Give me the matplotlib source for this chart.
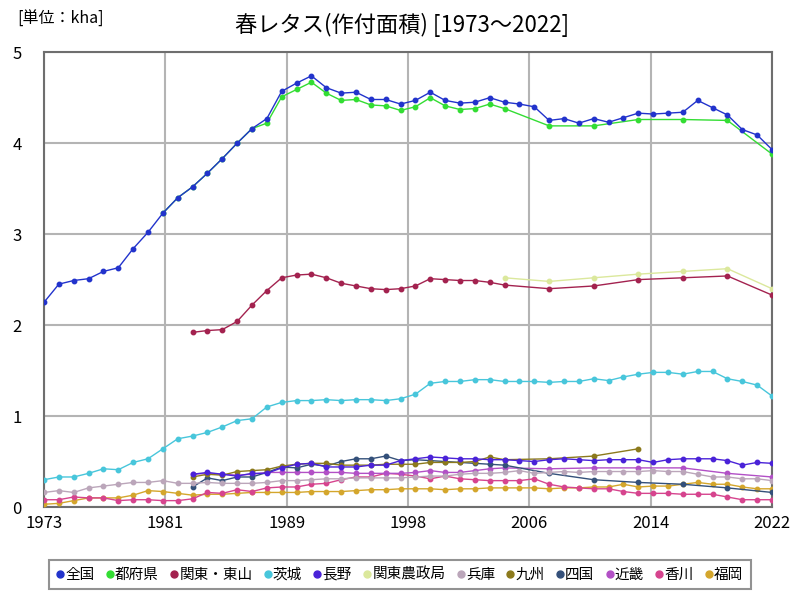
import numpy as np
import matplotlib
matplotlib.use('Agg')
import matplotlib.pyplot as plt
from matplotlib.lines import Line2D

plt.rcParams['font.family'] = ['Noto Sans CJK JP', 'DejaVu Sans']


# --------------------------------------------------------------------------- #
# Data (kha)
# --------------------------------------------------------------------------- #

YEARS_ALL = list(range(1973, 2023))
YEARS_83 = list(range(1983, 2023))
YEARS_3Y = [2007, 2010, 2013, 2016, 2019, 2022]

zenkoku = [2.25, 2.45, 2.49, 2.51, 2.59, 2.63, 2.84, 3.02, 3.23, 3.40,
           3.52, 3.67, 3.83, 4.00, 4.16, 4.27, 4.57, 4.66, 4.74, 4.61,
           4.55, 4.56, 4.48, 4.48, 4.43, 4.47, 4.56, 4.47, 4.44, 4.45,
           4.50, 4.45, 4.43, 4.40, 4.25, 4.27, 4.22, 4.27, 4.23, 4.28,
           4.33, 4.32, 4.33, 4.34, 4.47, 4.39, 4.31, 4.15, 4.09, 3.93]

tofuken_years = list(range(1981, 2005)) + YEARS_3Y
tofuken = [3.23, 3.40, 3.52, 3.67, 3.83, 4.00, 4.16, 4.22, 4.51, 4.59,
           4.67, 4.55, 4.47, 4.48, 4.42, 4.41, 4.36, 4.40, 4.50, 4.41,
           4.37, 4.38, 4.43, 4.38,
           4.19, 4.19, 4.26, 4.26, 4.25, 3.88]

kanto_tosan_years = list(range(1983, 2005)) + YEARS_3Y
kanto_tosan = [1.92, 1.94, 1.95, 2.04, 2.22, 2.38, 2.52, 2.55, 2.56, 2.52,
               2.46, 2.43, 2.40, 2.39, 2.40, 2.43, 2.51, 2.50, 2.49, 2.49,
               2.47, 2.44,
               2.40, 2.43, 2.50, 2.52, 2.54, 2.33]

ibaraki = [0.30, 0.33, 0.33, 0.37, 0.42, 0.41, 0.49, 0.53, 0.64, 0.75,
           0.78, 0.82, 0.88, 0.95, 0.97, 1.10, 1.15, 1.17, 1.17, 1.18,
           1.17, 1.18, 1.18, 1.17, 1.19, 1.24, 1.36, 1.38, 1.38, 1.40,
           1.40, 1.38, 1.38, 1.38, 1.37, 1.38, 1.38, 1.41, 1.39, 1.43,
           1.46, 1.48, 1.48, 1.46, 1.49, 1.49, 1.41, 1.38, 1.34, 1.22]

nagano = [0.36, 0.38, 0.36, 0.34, 0.37, 0.37, 0.43, 0.47, 0.48, 0.44,
          0.44, 0.44, 0.46, 0.46, 0.51, 0.53, 0.55, 0.54, 0.53, 0.53,
          0.52, 0.52, 0.51, 0.50, 0.52, 0.53, 0.52, 0.51, 0.52, 0.52,
          0.52, 0.49, 0.52, 0.53, 0.53, 0.53, 0.51, 0.46, 0.49, 0.48]

kanto_nosei_years = [2004] + YEARS_3Y
kanto_nosei = [2.52, 2.48, 2.52, 2.56, 2.59, 2.62, 2.40]

hyogo = [0.16, 0.18, 0.16, 0.21, 0.23, 0.25, 0.27, 0.27, 0.29, 0.26,
         0.26, 0.27, 0.26, 0.26, 0.26, 0.27, 0.29, 0.29, 0.30, 0.31,
         0.31, 0.32, 0.32, 0.32, 0.32, 0.33, 0.34, 0.34, 0.36, 0.37,
         0.37, 0.38, 0.40, 0.37, 0.38, 0.39, 0.38, 0.39, 0.39, 0.39,
         0.39, 0.40, 0.39, 0.39, 0.36, 0.33, 0.33, 0.31, 0.31, 0.29]

kyushu_years = list(range(1983, 2005)) + [2007, 2010, 2013]
kyushu = [0.33, 0.36, 0.35, 0.39, 0.40, 0.41, 0.45, 0.47, 0.48, 0.48,
          0.46, 0.46, 0.46, 0.47, 0.47, 0.47, 0.49, 0.49, 0.49, 0.50,
          0.55, 0.52,
          0.53, 0.56, 0.64]

shikoku_years = list(range(1983, 2005)) + YEARS_3Y
shikoku = [0.22, 0.32, 0.29, 0.33, 0.33, 0.38, 0.44, 0.43, 0.47, 0.45,
           0.50, 0.53, 0.53, 0.56, 0.51, 0.52, 0.51, 0.50, 0.49, 0.48,
           0.47, 0.46,
           0.37, 0.30, 0.27, 0.25, 0.21, 0.16]

kinki_years = list(range(1983, 2005)) + YEARS_3Y
kinki = [0.36, 0.37, 0.36, 0.35, 0.36, 0.38, 0.38, 0.38, 0.38, 0.38,
         0.38, 0.37, 0.37, 0.37, 0.37, 0.38, 0.40, 0.38, 0.38, 0.40,
         0.42, 0.43,
         0.42, 0.43, 0.43, 0.43, 0.37, 0.33]

kagawa = [0.08, 0.08, 0.11, 0.10, 0.10, 0.07, 0.08, 0.08, 0.07, 0.07,
          0.09, 0.16, 0.15, 0.19, 0.17, 0.21, 0.22, 0.22, 0.25, 0.26,
          0.30, 0.33, 0.33, 0.37, 0.36, 0.34, 0.31, 0.34, 0.31, 0.30,
          0.29, 0.29, 0.29, 0.31, 0.25, 0.22, 0.21, 0.20, 0.20, 0.17,
          0.15, 0.15, 0.15, 0.14, 0.14, 0.14, 0.11, 0.08, 0.08, 0.08]

fukuoka = [0.03, 0.04, 0.07, 0.10, 0.10, 0.10, 0.13, 0.18, 0.17, 0.15,
           0.13, 0.14, 0.14, 0.15, 0.16, 0.16, 0.16, 0.16, 0.17, 0.17,
           0.17, 0.18, 0.19, 0.19, 0.20, 0.20, 0.20, 0.19, 0.20, 0.20,
           0.21, 0.21, 0.21, 0.21, 0.20, 0.21, 0.21, 0.22, 0.22, 0.25,
           0.22, 0.23, 0.23, 0.25, 0.27, 0.25, 0.25, 0.22, 0.20, 0.20]

# (label, years, values, colour)
SERIES = [
    ('全国',       YEARS_ALL,         zenkoku,     '#2233cc'),
    ('都府県',     tofuken_years,     tofuken,     '#33dd33'),
    ('関東・東山', kanto_tosan_years, kanto_tosan, '#a3224f'),
    ('茨城',       YEARS_ALL,         ibaraki,     '#48c6db'),
    ('長野',       YEARS_83,          nagano,      '#4a22d8'),
    ('関東農政局', kanto_nosei_years, kanto_nosei, '#dbe89c'),
    ('兵庫',       YEARS_ALL,         hyogo,       '#bba6ba'),
    ('九州',       kyushu_years,      kyushu,      '#8c7a1c'),
    ('四国',       shikoku_years,     shikoku,     '#34507a'),
    ('近畿',       kinki_years,       kinki,       '#b250c6'),
    ('香川',       YEARS_ALL,         kagawa,      '#d6448e'),
    ('福岡',       YEARS_ALL,         fukuoka,     '#d4a62c'),
]


# --------------------------------------------------------------------------- #
# Plot
# --------------------------------------------------------------------------- #

fig = plt.figure(figsize=(8, 6), dpi=100, facecolor='white')
ax = fig.add_axes([0.055, 0.155, 0.91, 0.758])

n = len(SERIES)
handles = []
for i, (label, yrs, vals, col) in enumerate(SERIES):
    ax.plot(yrs, vals, color=col, lw=1.0, marker='o', ms=3.2,
            zorder=3 + (n - i) * 0.01)
    handles.append(Line2D([], [], color=col, marker='o', ls='none',
                          ms=5, label=label))

ax.set_xlim(1973, 2022)
ax.set_ylim(0, 5)

xt = np.linspace(1973, 2022, 7)
ax.set_xticks(xt)
ax.set_xticklabels([f'{int(np.floor(v + 0.5))}' for v in xt], fontsize=12)
ax.set_yticks(range(0, 6))
ax.set_yticklabels([str(v) for v in range(0, 6)], fontsize=12)
ax.tick_params(axis='both', length=0, colors='#000000')
ax.tick_params(axis='y', pad=16)
ax.tick_params(axis='x', pad=6)

ax.grid(True, color='#b4b4b4', lw=1.5)
ax.set_axisbelow(True)
for s in ax.spines.values():
    s.set_color('#6e6e6e')
    s.set_linewidth(1.5)

fig.text(0.503, 0.958, '春レタス(作付面積) [1973～2022]', ha='center',
         va='center', fontsize=16)
fig.text(0.022, 0.968, '[単位：kha]', ha='left', va='center', fontsize=11.5)

leg = fig.legend(handles=handles, loc='center', ncol=12,
                 bbox_to_anchor=(0.5, 0.042), fontsize=10.5,
                 handlelength=0.5, handletextpad=0.1, columnspacing=0.8,
                 frameon=True, fancybox=False, borderpad=0.5)
leg.get_frame().set_edgecolor('#777777')
leg.get_frame().set_linewidth(1.5)

fig.savefig('out.png', dpi=100, facecolor='white')
